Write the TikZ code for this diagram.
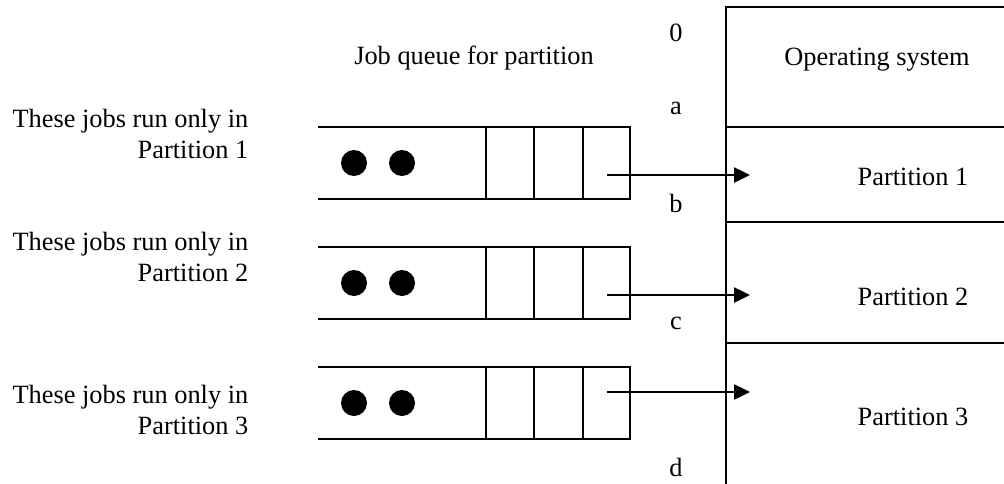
\documentclass[tikz,border=0pt]{standalone}
\usepackage{fontspec}
\setmainfont{Liberation Serif}
\usetikzlibrary{arrows.meta}

\begin{document}
\begin{tikzpicture}[x=0.2mm,y=-0.2mm,line width=0.8pt,
    font=\fontsize{15}{17.5}\selectfont,
    job/.style={circle,fill=black,inner sep=0pt,minimum size=5.2mm},
    note/.style={anchor=east,align=right,inner sep=0pt},
    arr/.style={line width=1.4pt,-{Triangle[length=3.2mm,width=3mm]}}]

\useasboundingbox (0,0) rectangle (1004,484);

% memory layout
\draw (1004,7) -- (726,7) -- (726,484);
\draw (726,127) -- (1004,127);
\draw (726,222) -- (1004,222);
\draw (726,343) -- (1004,343);
\node (os) at (877,60) {Operating system};
\node (part1) at (913,177) {Partition 1};
\node (part2) at (913,297) {Partition 2};
\node (part3) at (913,417) {Partition 3};

% addresses
\node (l0) at (676,33) {0};
\node (la) at (676,108) {a};
\node (lb) at (676,203) {b};
\node (lc) at (676,323) {c};
\node (ld) at (676,467) {d};

\node (title) at (474,58) {Job queue for partition};

% queues, one per partition
\foreach \i/\t/\ay in {1/127/175, 2/247/295, 3/367/392}{
  \draw (318,\t) -- (630,\t) -- (630,\t+72) -- (318,\t+72);
  \draw (486,\t) -- (486,\t+72);
  \draw (534,\t) -- (534,\t+72);
  \draw (583,\t) -- (583,\t+72);
  \node[job] (j\i a) at (354,\t+36) {};
  \node[job] (j\i b) at (402,\t+36) {};
  \coordinate (q\i) at (607,\ay);
  \coordinate (m\i) at (750,\ay);
  \draw[arr] (q\i) -- (m\i);
}

\node[note] (n1) at (249,134) {These jobs run only in\\Partition 1};
\node[note] (n2) at (249,257) {These jobs run only in\\Partition 2};
\node[note] (n3) at (249,410) {These jobs run only in\\Partition 3};

\end{tikzpicture}
\end{document}
